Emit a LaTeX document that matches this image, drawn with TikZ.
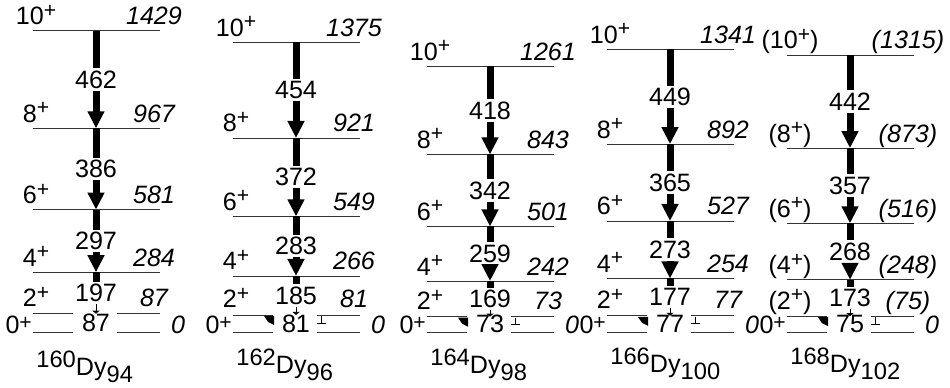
\documentclass[tikz,border=0pt]{standalone}
\usepackage{fontspec}
\setmainfont{Liberation Sans}
\usetikzlibrary{arrows.meta}
\newcommand\lvlfont{\fontsize{14.3}{16}\selectfont}
\newcommand\plus[1][0.3em]{\raisebox{#1}{\fontsize{12}{12}\selectfont+}}
\newcommand\spin[1]{#1\plus}
\newcommand\spinq[1]{(#1\plus)}
\newcommand\ener[1]{#1}
\newcommand\enerq[1]{(#1)}
\newcommand\nucl[2]{\raisebox{0.28em}{\fontsize{13.5}{14}\selectfont #1}Dy\raisebox{-0.28em}{\fontsize{13.5}{14}\selectfont #2}}
\begin{document}
\begin{tikzpicture}[x=0.02cm,y=-0.02cm,font=\lvlfont,
  level/.style={line width=0.5pt,black!80},
  gamma/.style={line width=0.14cm},
  gtip/.style={-{Triangle[width=0.32cm,length=0.34cm]}},
  glabel/.style={inner sep=0.04cm},
  slabel/.style={anchor=base},
  elabel/.style={anchor=base,font=\lvlfont\itshape}]
\useasboundingbox (0,0) rectangle (950,387);
\foreach \c/\xs/\A/\N/\ly/\ea/\eb/\ec/\ed/\ee/\sfmt/\efmt in {
    1/33/160/94/375/87/284/581/967/1429/\spin/\ener,
    2/233/162/96/373/81/266/549/921/1375/\spin/\ener,
    3/427/164/98/373/73/242/501/843/1261/\spin/\ener,
    4/607/166/100/372/77/254/527/892/1341/\spin/\ener,
    5/787/168/102/372/75/248/516/873/1315/\spinq/\enerq}{
  \pgfmathsetmacro\xc{\xs+63}
  \pgfmathsetmacro\yb{332-0.2107*\ea}
  % levels 4+ ... 10+
  \foreach \s/\e in {10/\ee,8/\ed,6/\ec,4/\eb}{
    \draw[level] (\xs,{332-0.2107*\e}) -- ++(127,0);
    \coordinate (C\c-\s) at (\xc,{332-0.2107*\e});
    \node[slabel] (S\c-\s) at (\xs+3,{326-0.2107*\e}) {\sfmt{\s}};
    \node[elabel] (E\c-\s) at (\xs+121,{326-0.2107*\e}) {\efmt{\e}};
  }
  % 2+ and 0+, broken round the label
  \draw[level] (\xs,\yb) -- ++(40,0) (\xs+84,\yb) -- ++(43,0);
  \draw[level] (\xs,332) -- ++(40,0) (\xs+84,332) -- ++(43,0);
  \coordinate (C\c-2) at (\xc,\yb);
  \node[slabel] (S\c-2) at (\xs+3,\yb-7) {\sfmt{2}};
  \node[elabel] (E\c-2) at (\xs+121,\yb-7) {\efmt{\ea}};
  \node[anchor=base east] (S\c-0) at (\xs+5,333) {0\plus[0.14em]};
  \node[elabel,anchor=base west] (E\c-0) at (\xs+132,333) {0};
  % transitions
  \foreach \s/\t/\u/\l in {10/8/\ee/\ed,8/6/\ed/\ec,6/4/\ec/\eb}{
    \pgfmathtruncatemacro\dE{\u-\l}
    \node[glabel] (G\c-\s) at (\xc,{332-0.2107*(\u+\l)/2}) {\dE};
    \draw[gamma] (C\c-\s) -- (G\c-\s);
    \draw[gamma,gtip] (G\c-\s) -- (C\c-\t);
  }
  \pgfmathtruncatemacro\dE{\eb-\ea}
  \node[glabel] (G\c-4) at (\xc,{332-0.2107*(\eb+\ea)/2}) {\dE};
  \draw[gamma] (C\c-4) -- (G\c-4);
  \draw[line width=0.5pt,-{Triangle[width=0.14cm,length=0.06cm]}] (G\c-4) -- (C\c-2);
  \node[glabel] (G\c-2) at (\xc,{(\yb+332)/2}) {\ea};
  \ifnum\c>1
    \fill (\xs+31,\yb+1) -- (\xs+41,\yb+1) -- (\xs+41,\yb+10) -- (\xs+35,\yb+7) -- cycle;
    \draw[line width=0.5pt] (\xs+88,\yb+1) -- (\xs+88,\yb+8) (\xs+84,\yb+8) -- (\xs+93,\yb+8);
  \fi
  \node[anchor=base west,inner sep=0pt] (N\c) at (\xs+3,\ly) {\nucl{\A}{\N}};
}
\end{tikzpicture}
\end{document}
